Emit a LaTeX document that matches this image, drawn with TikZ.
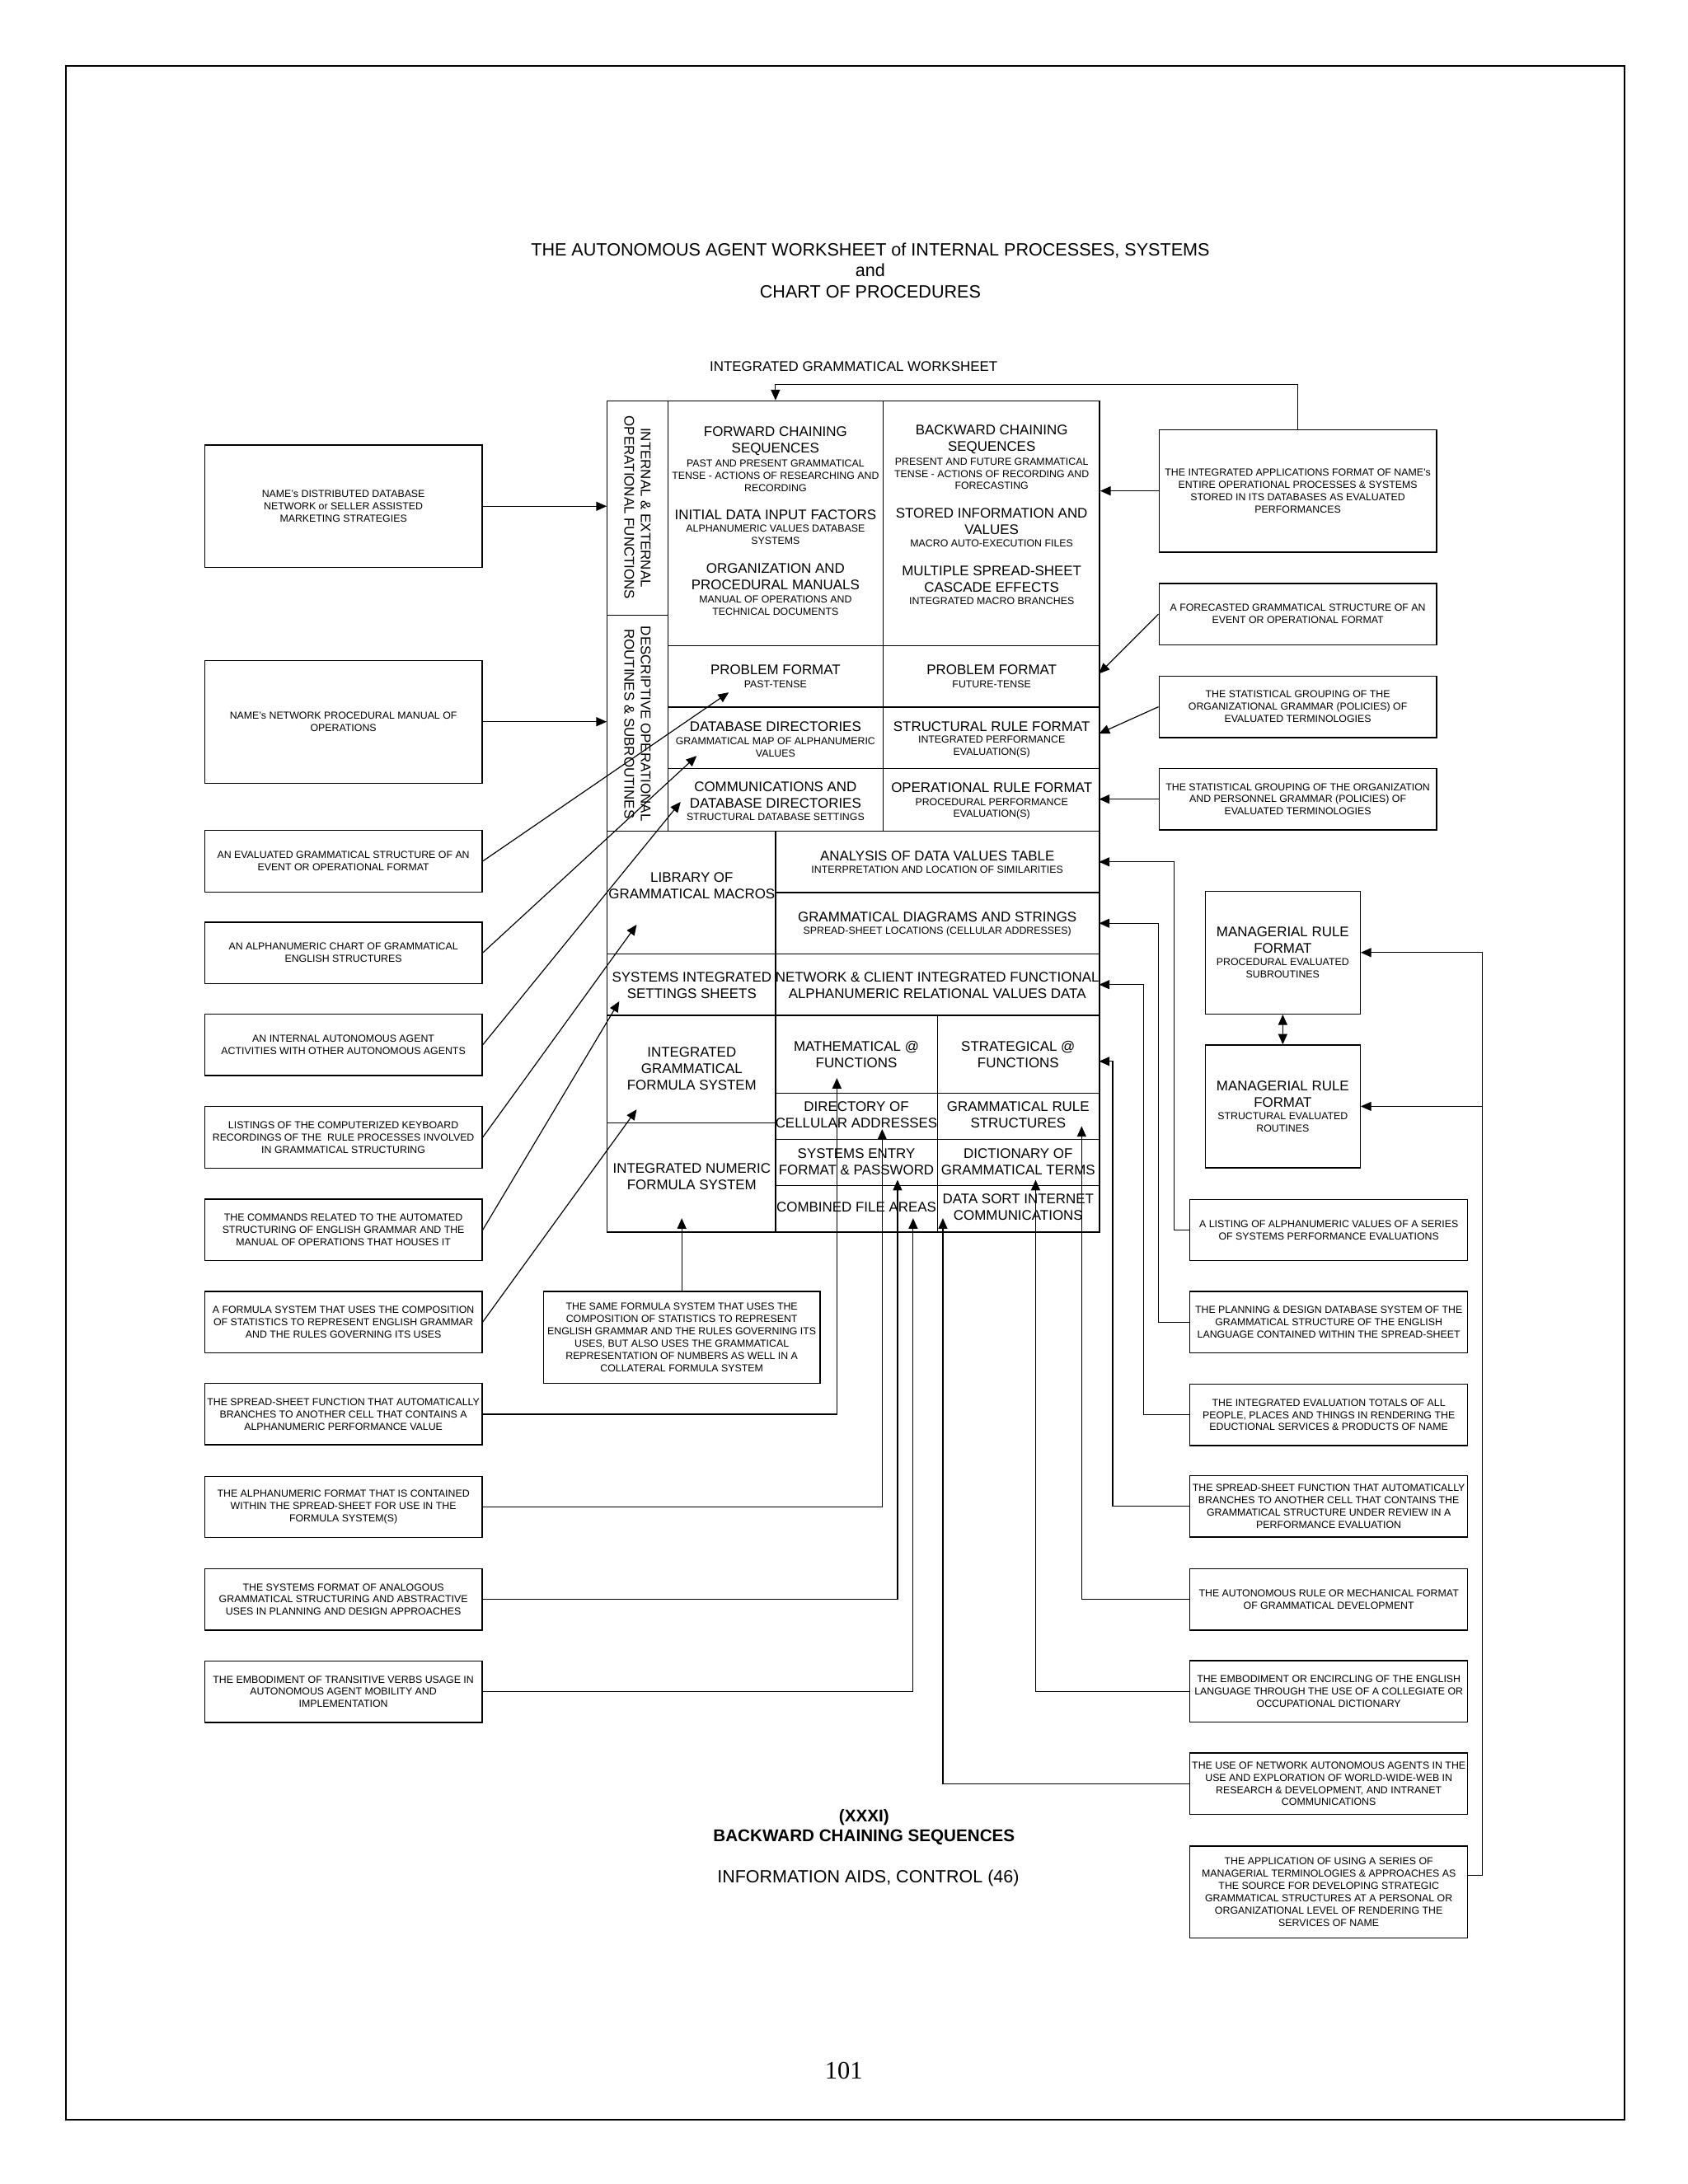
\documentclass[tikz,border=0pt]{standalone}
\usepackage{fontspec}
\setmainfont{Liberation Sans}
\newfontfamily\pagenumfont{Liberation Serif}
\usetikzlibrary{arrows.meta}

\begin{document}
\begin{tikzpicture}[x=1pt,y=-1pt]
\tikzstyle{big}=[font=\fontsize{10}{11.8}\selectfont, align=center, inner sep=0pt]
\tikzstyle{sml}=[font=\fontsize{7.3}{8.8}\selectfont, align=center, inner sep=0pt]
\tikzstyle{infobox}=[sml, draw, line width=0.8pt, minimum width=199pt, minimum height=44pt, inner sep=1pt]
\tikzstyle{mgrbox}=[draw, line width=0.8pt, minimum width=111pt, minimum height=88pt]
\tikzstyle{grid line}=[line width=0.8pt]
\tikzstyle{arr}=[line width=0.7pt, -{Triangle[length=7.5pt,width=6.5pt]}]
\tikzstyle{dblarr}=[line width=0.7pt, {Triangle[length=7.5pt,width=6.5pt]}-{Triangle[length=7.5pt,width=6.5pt]}]

\useasboundingbox (0,0) rectangle (1210,1566);
\draw[line width=1.2pt] (47,47) rectangle (1165,1520);

\node[font=\fontsize{12.75}{14.8}\selectfont, align=center] (title) at (624,194) {THE AUTONOMOUS AGENT WORKSHEET of INTERNAL PROCESSES, SYSTEMS\\and\\CHART OF PROCEDURES};
\node[font=\fontsize{10}{12}\selectfont] (igw) at (612,263) {INTEGRATED GRAMMATICAL WORKSHEET};

\node[draw, line width=0.8pt, minimum width=353pt, minimum height=596pt, anchor=north west, inner sep=0pt] (grid) at (435,287) {};
\draw[grid line] (479,287) -- (479,596);
\draw[grid line] (435,441) -- (479,441);
\draw[grid line] (633,287) -- (633,596);
\foreach \y in {463,507,551}
	\draw[grid line] (479,\y) -- (788,\y);
\draw[grid line] (435,596) -- (788,596);
\draw[grid line] (556,596) -- (556,883);
\draw[grid line] (556,640) -- (788,640);
\foreach \y in {684,728}
	\draw[grid line] (435,\y) -- (788,\y);
\draw[grid line] (672,728) -- (672,883);
\foreach \y in {784,817,850}
	\draw[grid line] (556,\y) -- (788,\y);
\draw[grid line] (435,805) -- (556,805);

\node[big, rotate=-90] (ief) at (457,364) {INTERNAL \& EXTERNAL\\OPERATIONAL FUNCTIONS};
\node[big, rotate=-90] (dor) at (457,519) {DESCRIPTIVE OPERATIONAL\\ROUTINES \& SUBROUTINES};

\node[big] (fwdT) at (556,316) {FORWARD CHAINING\\SEQUENCES};
\node[sml] (fwdS) at (556,341) {PAST AND PRESENT GRAMMATICAL\\TENSE - ACTIONS OF RESEARCHING AND\\RECORDING};
\node[big] (initT) at (556,369) {INITIAL DATA INPUT FACTORS};
\node[sml] (initS) at (556,383.5) {ALPHANUMERIC VALUES DATABASE\\SYSTEMS};
\node[big] (orgT) at (556,413.5) {ORGANIZATION AND\\PROCEDURAL MANUALS};
\node[sml] (orgS) at (556,434) {MANUAL OF OPERATIONS AND\\TECHNICAL DOCUMENTS};
\node[big] (bwdT) at (711,315) {BACKWARD CHAINING\\SEQUENCES};
\node[sml] (bwdS) at (711,339.7) {PRESENT AND FUTURE GRAMMATICAL\\TENSE - ACTIONS OF RECORDING AND\\FORECASTING};
\node[big] (storT) at (711,374) {STORED INFORMATION AND\\VALUES};
\node[sml] (storS) at (711,389.7) {MACRO AUTO-EXECUTION FILES};
\node[big] (multT) at (711,415) {MULTIPLE SPREAD-SHEET\\CASCADE EFFECTS};
\node[sml] (multS) at (711,431) {INTEGRATED MACRO BRANCHES};

\node[big] (probP) at (556,480.5) {PROBLEM FORMAT};
\node[sml] (probPS) at (556,490.5) {PAST-TENSE};
\node[big] (probF) at (711,480.5) {PROBLEM FORMAT};
\node[sml] (probFS) at (711,490.5) {FUTURE-TENSE};
\node[big] (dbdT) at (556,520.8) {DATABASE DIRECTORIES};
\node[sml] (dbdS) at (556,535.6) {GRAMMATICAL MAP OF ALPHANUMERIC\\VALUES};
\node[big] (srfT) at (711,520.8) {STRUCTURAL RULE FORMAT};
\node[sml] (srfS) at (711,535.6) {INTEGRATED PERFORMANCE\\EVALUATION(S)};
\node[big] (comT) at (556,569.8) {COMMUNICATIONS AND\\DATABASE DIRECTORIES};
\node[sml] (comS) at (556,586) {STRUCTURAL DATABASE SETTINGS};
\node[big] (orfT) at (711,565) {OPERATIONAL RULE FORMAT};
\node[sml] (orfS) at (711,580) {PROCEDURAL PERFORMANCE\\EVALUATION(S)};

\node[big] (libT) at (496,635) {LIBRARY OF\\GRAMMATICAL MACROS};
\node[big] (anaT) at (672,613.7) {ANALYSIS OF DATA VALUES TABLE};
\node[sml] (anaS) at (672,623.6) {INTERPRETATION AND LOCATION OF SIMILARITIES};
\node[big] (diaT) at (672,657.6) {GRAMMATICAL DIAGRAMS AND STRINGS};
\node[sml] (diaS) at (672,667.9) {SPREAD-SHEET LOCATIONS (CELLULAR ADDRESSES)};
\node[big] (sisT) at (496,706.5) {SYSTEMS INTEGRATED\\SETTINGS SHEETS};
\node[big] (netT) at (672,706.5) {NETWORK \& CLIENT INTEGRATED FUNCTIONAL\\ALPHANUMERIC RELATIONAL VALUES DATA};
\node[big] (igfT) at (496,766.5) {INTEGRATED\\GRAMMATICAL\\FORMULA SYSTEM};
\node[big] (mathT) at (614,755.8) {MATHEMATICAL @\\FUNCTIONS};
\node[big] (stratT) at (730,755.8) {STRATEGICAL @\\FUNCTIONS};
\node[big] (dirT) at (614,799.5) {DIRECTORY OF\\CELLULAR ADDRESSES};
\node[big] (grsT) at (730,799.5) {GRAMMATICAL RULE\\STRUCTURES};
\node[big] (sefT) at (614,833) {SYSTEMS ENTRY\\FORMAT \& PASSWORD};
\node[big] (dgtT) at (730,833) {DICTIONARY OF\\GRAMMATICAL TERMS};
\node[big] (infT) at (496,843.8) {INTEGRATED NUMERIC\\FORMULA SYSTEM};
\node[big] (cfaT) at (614,865.7) {COMBINED FILE AREAS};
\node[big] (dsiT) at (730,865.7) {DATA SORT INTERNET\\COMMUNICATIONS};

\node[infobox, minimum height=88pt] (dist) at (246.2,363) {NAME's DISTRIBUTED DATABASE\\NETWORK or SELLER ASSISTED\\MARKETING STRATEGIES};
\node[infobox, minimum height=88pt] (procman) at (246.2,517.5) {NAME's NETWORK PROCEDURAL MANUAL OF\\OPERATIONS};
\node[infobox] (evalstr) at (246.2,617.5) {AN EVALUATED GRAMMATICAL STRUCTURE OF AN\\EVENT OR OPERATIONAL FORMAT};
\node[infobox] (alphachart) at (246.2,683.2) {AN ALPHANUMERIC CHART OF GRAMMATICAL\\ENGLISH STRUCTURES};
\node[infobox] (intagent) at (246.2,749.2) {AN INTERNAL AUTONOMOUS AGENT\\ACTIVITIES WITH OTHER AUTONOMOUS AGENTS};
\node[infobox] (listings) at (246.2,815.5) {LISTINGS OF THE COMPUTERIZED KEYBOARD\\RECORDINGS OF THE \ RULE PROCESSES INVOLVED\\IN GRAMMATICAL STRUCTURING};
\node[infobox] (commands) at (246.2,881.9) {THE COMMANDS RELATED TO THE AUTOMATED\\STRUCTURING OF ENGLISH GRAMMAR AND THE\\MANUAL OF OPERATIONS THAT HOUSES IT};
\node[infobox] (formsys) at (246.2,947.9) {A FORMULA SYSTEM THAT USES THE COMPOSITION\\OF STATISTICS TO REPRESENT ENGLISH GRAMMAR\\AND THE RULES GOVERNING ITS USES};
\node[infobox] (spreadval) at (246.2,1014) {THE SPREAD-SHEET FUNCTION THAT AUTOMATICALLY\\BRANCHES TO ANOTHER CELL THAT CONTAINS A\\ALPHANUMERIC PERFORMANCE VALUE};
\node[infobox] (alphaform) at (246.2,1080.5) {THE ALPHANUMERIC FORMAT THAT IS CONTAINED\\WITHIN THE SPREAD-SHEET FOR USE IN THE\\FORMULA SYSTEM(S)};
\node[infobox] (sysformat) at (246.2,1146.8) {THE SYSTEMS FORMAT OF ANALOGOUS\\GRAMMATICAL STRUCTURING AND ABSTRACTIVE\\USES IN PLANNING AND DESIGN APPROACHES};
\node[infobox] (transverbs) at (246.2,1213) {THE EMBODIMENT OF TRANSITIVE VERBS USAGE IN\\AUTONOMOUS AGENT MOBILITY AND\\IMPLEMENTATION};

\node[infobox, minimum width=198.5pt, minimum height=66pt] (sameform) at (488.8,959) {THE SAME FORMULA SYSTEM THAT USES THE\\COMPOSITION OF STATISTICS TO REPRESENT\\ENGLISH GRAMMAR AND THE RULES GOVERNING ITS\\USES, BUT ALSO USES THE GRAMMATICAL\\REPRESENTATION OF NUMBERS AS WELL IN A\\COLLATERAL FORMULA SYSTEM};

\node[infobox, minimum height=88pt] (intapp) at (930.5,352) {THE INTEGRATED APPLICATIONS FORMAT OF NAME's\\ENTIRE OPERATIONAL PROCESSES \& SYSTEMS\\STORED IN ITS DATABASES AS EVALUATED\\PERFORMANCES};
\node[infobox] (forecast) at (930.5,440.3) {A FORECASTED GRAMMATICAL STRUCTURE OF AN\\EVENT OR OPERATIONAL FORMAT};
\node[infobox] (statorg) at (930.5,506.8) {THE STATISTICAL GROUPING OF THE\\ORGANIZATIONAL GRAMMAR (POLICIES) OF\\EVALUATED TERMINOLOGIES};
\node[infobox] (statpers) at (930.5,573) {THE STATISTICAL GROUPING OF THE ORGANIZATION\\AND PERSONNEL GRAMMAR (POLICIES) OF\\EVALUATED TERMINOLOGIES};

\node[mgrbox] (mgrproc) at (919.7,683) {};
\node[big] (mgrprocT) at (919.7,674) {MANAGERIAL RULE\\FORMAT};
\node[sml] (mgrprocS) at (919.7,694.4) {PROCEDURAL EVALUATED\\SUBROUTINES};
\node[mgrbox] (mgrstruc) at (919.7,793.3) {};
\node[big] (mgrstrucT) at (919.7,784.3) {MANAGERIAL RULE\\FORMAT};
\node[sml] (mgrstrucS) at (919.7,804.7) {STRUCTURAL EVALUATED\\ROUTINES};

\node[infobox] (listing) at (952.7,882) {A LISTING OF ALPHANUMERIC VALUES OF A SERIES\\OF SYSTEMS PERFORMANCE EVALUATIONS};
\node[infobox] (planning) at (952.7,948) {THE PLANNING \& DESIGN DATABASE SYSTEM OF THE\\GRAMMATICAL STRUCTURE OF THE ENGLISH\\LANGUAGE CONTAINED WITHIN THE SPREAD-SHEET};
\node[infobox] (evaltot) at (952.7,1014.5) {THE INTEGRATED EVALUATION TOTALS OF ALL\\PEOPLE, PLACES AND THINGS IN RENDERING THE\\EDUCTIONAL SERVICES \& PRODUCTS OF NAME};
\node[infobox] (spreadgram) at (952.7,1080) {THE SPREAD-SHEET FUNCTION THAT AUTOMATICALLY\\BRANCHES TO ANOTHER CELL THAT CONTAINS THE\\GRAMMATICAL STRUCTURE UNDER REVIEW IN A\\PERFORMANCE EVALUATION};
\node[infobox] (autorule) at (952.7,1146.8) {THE AUTONOMOUS RULE OR MECHANICAL FORMAT\\OF GRAMMATICAL DEVELOPMENT};
\node[infobox] (encircle) at (952.7,1212.8) {THE EMBODIMENT OR ENCIRCLING OF THE ENGLISH\\LANGUAGE THROUGH THE USE OF A COLLEGIATE OR\\OCCUPATIONAL DICTIONARY};
\node[infobox] (netagents) at (952.7,1279) {THE USE OF NETWORK AUTONOMOUS AGENTS IN THE\\USE AND EXPLORATION OF WORLD-WIDE-WEB IN\\RESEARCH \& DEVELOPMENT, AND INTRANET\\COMMUNICATIONS};
\node[infobox, minimum height=66pt] (application) at (952.7,1356.7) {THE APPLICATION OF USING A SERIES OF\\MANAGERIAL TERMINOLOGIES \& APPROACHES AS\\THE SOURCE FOR DEVELOPING STRATEGIC\\GRAMMATICAL STRUCTURES AT A PERSONAL OR\\ORGANIZATIONAL LEVEL OF RENDERING THE\\SERVICES OF NAME};

\node[font=\bfseries\fontsize{12.2}{14}\selectfont, align=center] (xxxi) at (619.5,1310) {(XXXI)\\BACKWARD CHAINING SEQUENCES};
\node[font=\fontsize{12.7}{15}\selectfont] (aids) at (622.5,1347) {INFORMATION AIDS, CONTROL (46)};
\node[font=\pagenumfont\fontsize{18}{20}\selectfont] (pnum) at (605,1485) {101};

\coordinate (tPast) at (522.5,496.5);
\coordinate (tMap) at (499.5,542);
\coordinate (tComm) at (488,575);
\coordinate (tLib) at (456.5,663);
\coordinate (tSet) at (444,718);
\coordinate (tForm) at (456.5,795.5);
\coordinate (tMath) at (600,773);
\coordinate (tDir) at (632.5,809.5);
\coordinate (tEntry) at (643.5,846);
\coordinate (tComb) at (654.7,873.5);
\coordinate (tSort) at (676,873.5);
\coordinate (tDict) at (742.5,846);
\coordinate (tRule) at (775.5,807.5);
\coordinate (tNum) at (488.8,873.5);
\coordinate (tFut) at (788,483);
\coordinate (tStruc) at (788,526);
\coordinate (tOper) at (788,573);
\coordinate (tAnal) at (788,618);
\coordinate (tDiag) at (788,662);
\coordinate (tNet) at (788,706);
\coordinate (tStrat) at (788,761);
\coordinate (tTop) at (556,287);
\coordinate (mline) at (1063,0);

\draw[arr] (dist.east) -- (dist.east -| grid.west);
\draw[arr] (procman.east) -- (procman.east -| grid.west);
\draw[arr] (evalstr.east) -- (tPast);
\draw[arr] (alphachart.east) -- (tMap);
\draw[arr] (intagent.east) -- (tComm);
\draw[arr] (listings.east) -- (tLib);
\draw[arr] (commands.east) -- (tSet);
\draw[arr] (formsys.east) -- (tForm);
\draw[arr] (spreadval.east) -| (tMath);
\draw[arr] (alphaform.east) -| (tDir);
\draw[arr] (sysformat.east) -| (tEntry);
\draw[arr] (transverbs.east) -| (tComb);
\draw[arr] (sameform.north) -- (tNum);
\draw[arr] (intapp.north) -- ++(0,-32) -| (tTop);
\draw[arr] (intapp.west) -- (intapp.west -| grid.east);
\draw[arr] (forecast.west) -- (tFut);
\draw[arr] (statorg.west) -- (tStruc);
\draw[arr] (statpers.west) -- (tOper);
\draw[arr] (listing.west) -- ++(-11,0) |- (tAnal);
\draw[arr] (planning.west) -- ++(-22,0) |- (tDiag);
\draw[arr] (evaltot.west) -- ++(-33,0) |- (tNet);
\draw[arr] (spreadgram.west) -- ++(-55,0) |- (tStrat);
\draw[arr] (autorule.west) -| (tRule);
\draw[arr] (encircle.west) -| (tDict);
\draw[arr] (netagents.west) -| (tSort);
\draw[arr] ([yshift=12pt]application.east) -| (mline |- mgrproc.east) -- (mgrproc.east);
\draw[arr] (mline |- mgrstruc.east) -- (mgrstruc.east);
\draw[dblarr] (mgrproc.south) -- (mgrstruc.north);
\end{tikzpicture}
\end{document}
